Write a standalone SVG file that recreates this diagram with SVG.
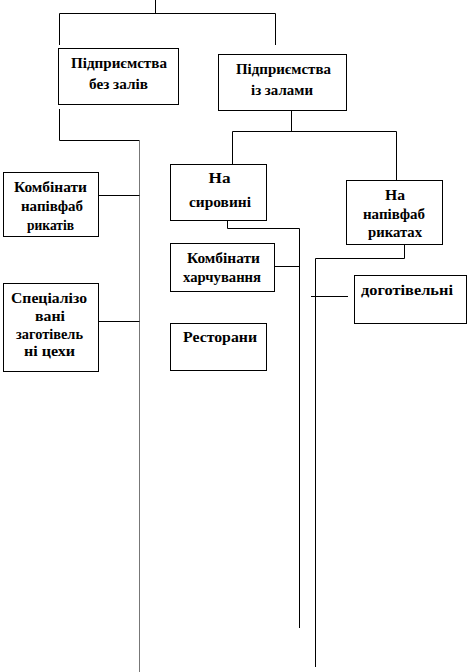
<svg xmlns="http://www.w3.org/2000/svg" width="470" height="672" viewBox="0 0 470 672">
<style>
.b{fill:#fff;stroke:#000;stroke-width:1}
.t{font-family:'Liberation Serif','DejaVu Serif',serif;font-weight:bold;font-size:14px;fill:#000;text-anchor:middle}
.c line,.c polyline{stroke:#000;stroke-width:1;fill:none}
</style>
<rect width="470" height="672" fill="#fff"/>
<g class="c" id="connectors">
<line x1="155.5" y1="0" x2="155.5" y2="13.5"/>
<polyline points="59.5,45 59.5,13.5 275.5,13.5 275.5,45"/>
<polyline points="59.5,109 59.5,140.5 139.5,140.5"/>
<line x1="139.5" y1="140" x2="139.5" y2="672" style="stroke:#777"/>
<line x1="98.5" y1="195.5" x2="139.5" y2="195.5"/>
<line x1="98.5" y1="321.5" x2="139.5" y2="321.5"/>
<line x1="291.5" y1="110" x2="291.5" y2="131.5"/>
<polyline points="232.5,164 232.5,131.5 396.5,131.5 396.5,180"/>
<polyline points="227.5,220 227.5,228.5 299.5,228.5 299.5,628"/>
<line x1="274" y1="266.5" x2="299.5" y2="266.5"/>
<polyline points="404.5,244 404.5,258.5 315.5,258.5 315.5,667"/>
<line x1="311" y1="296.5" x2="348" y2="296.5"/>
</g>
<g id="n1"><rect class="b" x="58.5" y="48.5" width="120" height="56"/>
<text class="t" x="119" y="68" textLength="96" lengthAdjust="spacingAndGlyphs">Підприємства</text>
<text class="t" x="118.5" y="89" textLength="59" lengthAdjust="spacingAndGlyphs">без залів</text></g>
<g id="n2"><rect class="b" x="218.5" y="54.5" width="128" height="56"/>
<text class="t" x="283.5" y="74" textLength="95" lengthAdjust="spacingAndGlyphs">Підприємства</text>
<text class="t" x="282" y="95" textLength="62" lengthAdjust="spacingAndGlyphs">із залами</text></g>
<g id="n3"><rect class="b" x="3.5" y="172.5" width="95" height="64"/>
<text class="t" x="50.5" y="192" textLength="73" lengthAdjust="spacingAndGlyphs">Комбінати</text>
<text class="t" x="52" y="211" textLength="62" lengthAdjust="spacingAndGlyphs">напівфаб</text>
<text class="t" x="50.5" y="230" textLength="47" lengthAdjust="spacingAndGlyphs">рикатів</text></g>
<g id="n4"><rect class="b" x="3.5" y="283.5" width="95" height="88"/>
<text class="t" x="49" y="303" textLength="76" lengthAdjust="spacingAndGlyphs">Спеціалізо</text>
<text class="t" x="50" y="321" textLength="30" lengthAdjust="spacingAndGlyphs">вані</text>
<text class="t" x="49.5" y="339" textLength="67" lengthAdjust="spacingAndGlyphs">заготівель</text>
<text class="t" x="49.5" y="356" textLength="51" lengthAdjust="spacingAndGlyphs">ні цехи</text></g>
<g id="n5"><rect class="b" x="170.5" y="164.5" width="96" height="56"/>
<text class="t" x="219.5" y="183" textLength="22" lengthAdjust="spacingAndGlyphs">На</text>
<text class="t" x="220" y="207" textLength="62" lengthAdjust="spacingAndGlyphs">сировині</text></g>
<g id="n6"><rect class="b" x="346.5" y="180.5" width="96" height="64"/>
<text class="t" x="395" y="200" textLength="20" lengthAdjust="spacingAndGlyphs">На</text>
<text class="t" x="394" y="219" textLength="62" lengthAdjust="spacingAndGlyphs">напівфаб</text>
<text class="t" x="395" y="237" textLength="54" lengthAdjust="spacingAndGlyphs">рикатах</text></g>
<g id="n7"><rect class="b" x="170.5" y="243.5" width="104" height="48"/>
<text class="t" x="223.5" y="263" textLength="73" lengthAdjust="spacingAndGlyphs">Комбінати</text>
<text class="t" x="222" y="282" textLength="78" lengthAdjust="spacingAndGlyphs">харчування</text></g>
<g id="n8"><rect class="b" x="170.5" y="323.5" width="96" height="47"/>
<text class="t" x="220" y="342" textLength="74" lengthAdjust="spacingAndGlyphs">Ресторани</text></g>
<g id="n9"><rect class="b" x="354.5" y="275.5" width="112" height="48"/>
<text class="t" x="407" y="295" textLength="92" lengthAdjust="spacingAndGlyphs">доготівельні</text></g>
</svg>
